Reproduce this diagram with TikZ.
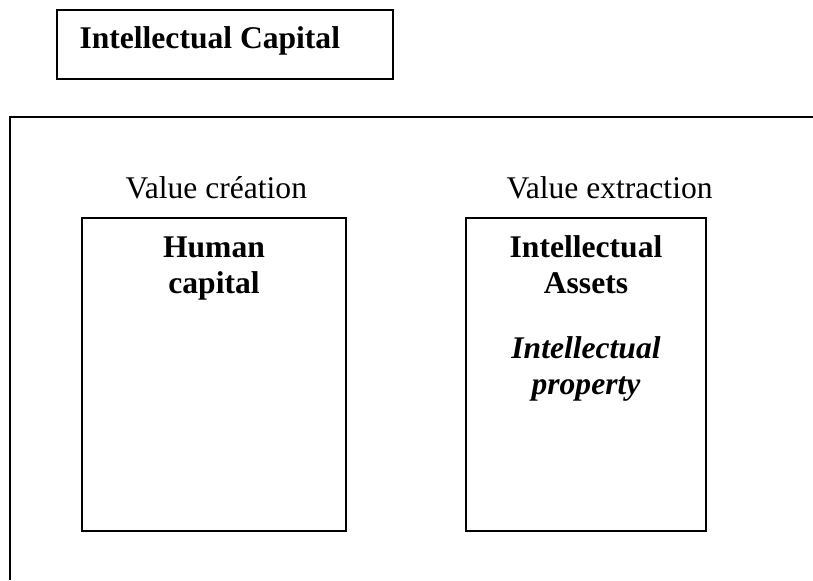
\documentclass[tikz,border=0pt]{standalone}
\usepackage{fontspec}
\setmainfont{Liberation Serif}
\usetikzlibrary{positioning}

\begin{document}
\begin{tikzpicture}[x=0.38pt,y=-0.38pt]
    \tikzset{frame/.style = {draw, line width=0.8pt}}
    \tikzset{txt/.style = {inner sep=0pt, anchor=base, font=\fontsize{12}{14}\selectfont}}
    \tikzset{head/.style = {txt, font=\fontsize{12}{14}\selectfont\bfseries}}
    \useasboundingbox (0,0) rectangle (813,580);

    % boxes
    \draw[frame] (57,10) rectangle (393,79);
    \draw[frame] (10,580) -- (10,117) -- (813,117);
    \draw[frame] (82,218) rectangle (346,531);
    \draw[frame] (466,218) rectangle (706,531);

    % texts
    \node[head, anchor=base west] (ic) at (79,48) {Intellectual Capital};
    \node[txt, anchor=base west] (vc) at (125,198) {Value création};
    \node[txt, anchor=base west] (ve) at (506,198) {Value extraction};
    \node[head] (hc1) at (214,257) {Human};
    \node[head] (hc2) at (214,293) {capital};
    \node[head] (ia1) at (586,257) {Intellectual};
    \node[head] (ia2) at (586,293) {Assets};
    \node[head, font=\fontsize{12}{14}\selectfont\bfseries\itshape] (ip1) at (586,358) {Intellectual};
    \node[head, font=\fontsize{12}{14}\selectfont\bfseries\itshape] (ip2) at (586,394) {property};
\end{tikzpicture}
\end{document}
